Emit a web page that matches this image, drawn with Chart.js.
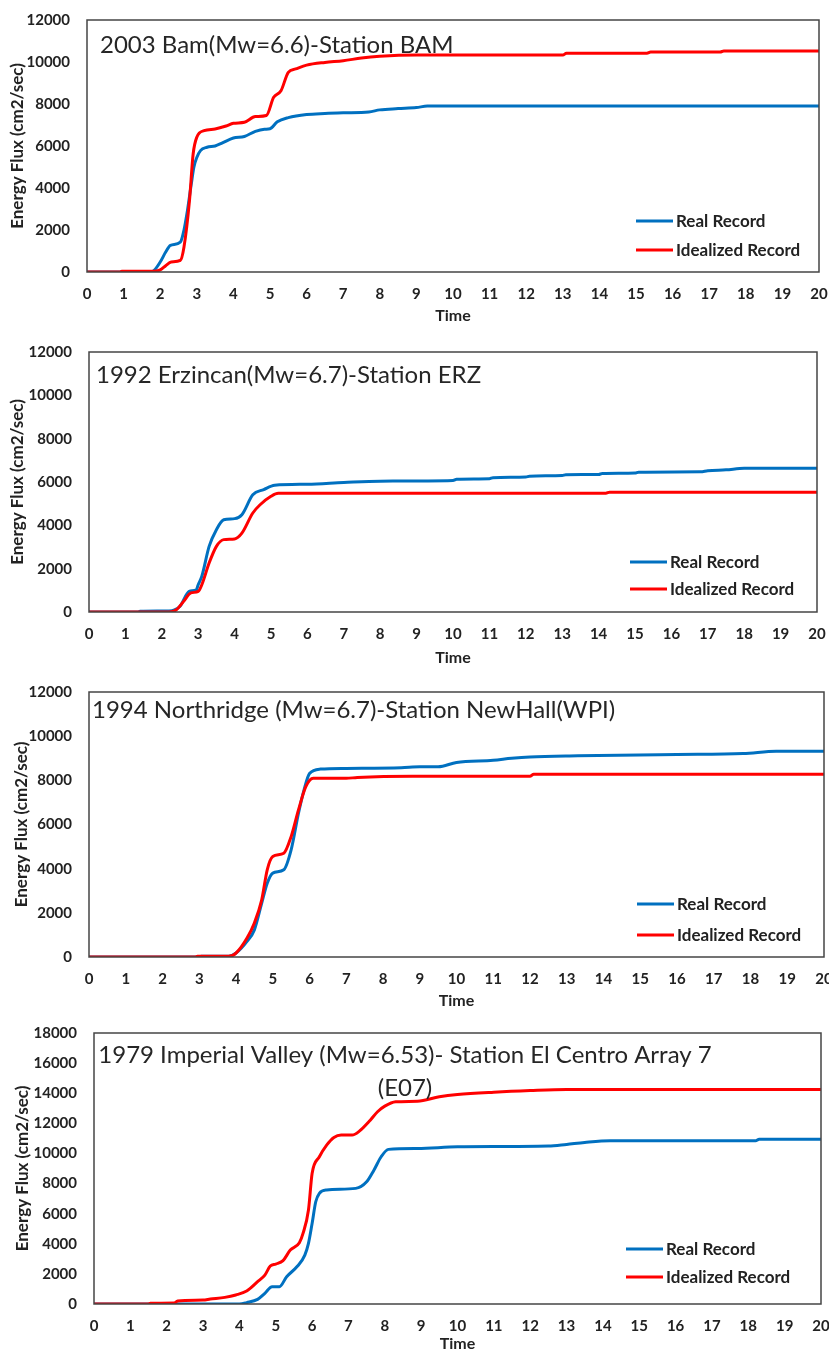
<!DOCTYPE html>
<html>
<head>
<meta charset="utf-8">
<script src="https://cdn.jsdelivr.net/npm/chart.js@4"></script>
<style>
  body { margin: 0; background: #fff; }
  canvas { display: block; }
</style>
</head>
<body>
<canvas id="c1" width="829" height="330"></canvas>
<canvas id="c2" width="829" height="340"></canvas>
<canvas id="c3" width="829" height="340"></canvas>
<canvas id="c4" width="829" height="342"></canvas>
<script>
// 2003 Bam - Station BAM
const bamRealT  = [0, 1.7, 1.8, 2.0, 2.15, 2.28, 2.55, 2.65, 2.73, 2.85, 2.92, 3.0, 3.1, 3.28, 3.5, 3.7, 4.0, 4.3, 4.6, 4.85, 5.0, 5.2, 5.5, 6.0, 6.5, 7.0, 7.7, 8.0, 8.5, 9.0, 9.3, 20];
const bamRealE  = [0, 0, 30, 475, 950, 1270, 1420, 2000, 2770, 4200, 4990, 5450, 5780, 5940, 6000, 6150, 6380, 6450, 6700, 6800, 6820, 7150, 7350, 7500, 7550, 7580, 7620, 7720, 7780, 7830, 7900, 7900];
const bamIdealT = [0, 0.9, 0.95, 1.8, 2.0, 2.15, 2.3, 2.55, 2.65, 2.8, 2.9, 3.0, 3.2, 3.5, 3.8, 4.0, 4.3, 4.6, 4.9, 5.1, 5.3, 5.5, 5.7, 6.0, 6.5, 7.0, 7.5, 8.0, 9.0, 13.0, 13.1, 15.3, 15.4, 17.3, 17.4, 20];
const bamIdealE = [0, 0, 30, 30, 100, 300, 475, 550, 1190, 3400, 5620, 6420, 6730, 6810, 6950, 7080, 7130, 7400, 7450, 8320, 8630, 9510, 9670, 9850, 9980, 10060, 10190, 10270, 10330, 10330, 10420, 10420, 10480, 10480, 10520, 10520];

// 1992 Erzincan - Station ERZ
const erzRealT  = [0, 1.35, 1.4, 2.2, 2.35, 2.5, 2.75, 2.95, 3.0, 3.1, 3.3, 3.5, 3.7, 4.0, 4.2, 4.5, 4.8, 5.1, 6.0, 7.0, 8.0, 10.0, 10.1, 11.0, 11.1, 12.0, 12.1, 13.0, 13.1, 14.0, 14.1, 15.0, 15.1, 16.8, 17.0, 17.5, 18.0, 20];
const erzRealE  = [0, 0, 30, 50, 100, 260, 950, 1030, 1260, 1650, 3030, 3800, 4260, 4310, 4490, 5410, 5650, 5850, 5900, 5980, 6040, 6070, 6130, 6150, 6200, 6230, 6270, 6300, 6340, 6350, 6390, 6410, 6450, 6470, 6520, 6560, 6630, 6630];
const erzIdealT = [0, 2.2, 2.4, 2.6, 2.8, 3.0, 3.1, 3.3, 3.5, 3.7, 4.0, 4.2, 4.5, 4.7, 5.0, 5.2, 14.2, 14.3, 20];
const erzIdealE = [0, 0, 100, 490, 880, 950, 1260, 2260, 3030, 3340, 3370, 3640, 4570, 4950, 5340, 5480, 5480, 5530, 5530];

// 1994 Northridge - Station NewHall(WPI)
const norRealT  = [0, 3.0, 3.05, 3.8, 4.0, 4.3, 4.5, 4.7, 4.85, 5.0, 5.3, 5.5, 5.7, 5.85, 6.0, 6.3, 7.0, 8.5, 9.0, 9.5, 10.0, 11.0, 11.5, 12.0, 13.3, 16.0, 17.8, 18.7, 20];
const norRealE  = [0, 0, 30, 30, 180, 710, 1230, 2440, 3340, 3800, 3950, 4850, 6510, 7560, 8310, 8510, 8540, 8570, 8610, 8610, 8810, 8910, 9000, 9060, 9110, 9170, 9210, 9320, 9320];
const norIdealT = [0, 2.9, 2.95, 3.8, 4.0, 4.3, 4.5, 4.7, 4.85, 5.0, 5.3, 5.5, 5.7, 5.9, 6.1, 7.0, 7.3, 8.8, 12.0, 12.1, 20];
const norIdealE = [0, 0, 30, 30, 180, 860, 1540, 2590, 3950, 4550, 4700, 5450, 6660, 7710, 8090, 8090, 8130, 8190, 8190, 8270, 8270];

// 1979 Imperial Valley - Station El Centro Array 7
const impRealT  = [0, 4.0, 4.2, 4.5, 4.7, 4.9, 5.1, 5.3, 5.6, 5.8, 5.9, 6.0, 6.1, 6.2, 6.4, 7.2, 7.5, 7.7, 7.9, 8.1, 8.9, 10.0, 12.5, 13.0, 13.5, 14.2, 18.2, 18.3, 20];
const impRealE  = [0, 0, 90, 310, 710, 1150, 1150, 1810, 2520, 3250, 4030, 5350, 6790, 7350, 7570, 7680, 8120, 8890, 9780, 10270, 10330, 10440, 10490, 10600, 10730, 10840, 10840, 10950, 10950];
const impIdealT = [0, 1.5, 1.55, 2.2, 2.3, 3.0, 3.2, 3.6, 3.9, 4.2, 4.5, 4.7, 4.85, 5.0, 5.2, 5.4, 5.65, 5.75, 5.9, 6.0, 6.2, 6.4, 6.6, 6.8, 7.1, 7.3, 7.6, 7.8, 8.0, 8.3, 8.9, 9.5, 10.0, 11.0, 12.0, 13.0, 20];
const impIdealE = [0, 0, 50, 60, 200, 265, 330, 440, 600, 860, 1480, 1920, 2520, 2650, 2880, 3580, 4070, 4690, 6240, 8670, 9780, 10550, 11060, 11220, 11220, 11480, 12210, 12770, 13140, 13430, 13470, 13760, 13910, 14070, 14180, 14250, 14250];

const seriesLabels = ['Real Record', 'Idealized Record'];
const yTitle = 'Energy Flux (cm2/sec)';
const xTitle = 'Time';

const blue = '#0070C0';
const red = '#FF0000';
const ink = '#222';

Chart.defaults.font.family = 'Lato';

// plot frame, title inside the plot and the legend in the lower right
const decor = {
  id: 'decor',
  afterDatasetsDraw(chart, args, o) {
    const { ctx, chartArea: a } = chart;
    ctx.save();
    ctx.strokeStyle = '#454545';
    ctx.lineWidth = 1.5;
    ctx.strokeRect(a.left, a.top, a.right - a.left, a.bottom - a.top);

    ctx.fillStyle = '#262626';
    ctx.font = '24px Lato';
    ctx.textBaseline = 'middle';
    ctx.textAlign = o.align;
    o.title.forEach((s, i) => ctx.fillText(s, o.tx, o.ty + i * 33));

    ctx.font = 'bold 17px Lato';
    ctx.textAlign = 'left';
    ctx.fillStyle = ink;
    chart.data.datasets.forEach((d, i) => {
      const y = o.ly + i * o.lg;
      ctx.strokeStyle = d.borderColor;
      ctx.lineWidth = 3;
      ctx.beginPath();
      ctx.moveTo(o.lx, y);
      ctx.lineTo(o.lx + 37, y);
      ctx.stroke();
      ctx.fillText(d.label, o.lx + 40, y + 1);
    });
    ctx.restore();
  }
};

const panels = [
  { id: 'c1', title: ['2003 Bam(Mw=6.6)-Station BAM'], yMax: 12000,
    real: [bamRealT, bamRealE], ideal: [bamIdealT, bamIdealE],
    box: { h: 330, l: 87, t: 20, r: 819, b: 272, timeY: 316, yTitleX: 18,
           tx: 100, ty: 45, align: 'left', lx: 636, ly: 221, lg: 29 } },
  { id: 'c2', title: ['1992 Erzincan(Mw=6.7)-Station ERZ'], yMax: 12000,
    real: [erzRealT, erzRealE], ideal: [erzIdealT, erzIdealE],
    box: { h: 340, l: 89, t: 22, r: 817, b: 282, timeY: 328, yTitleX: 18,
           tx: 96, ty: 45, align: 'left', lx: 630, ly: 232, lg: 27 } },
  { id: 'c3', title: ['1994 Northridge (Mw=6.7)-Station NewHall(WPI)'], yMax: 12000,
    real: [norRealT, norRealE], ideal: [norIdealT, norIdealE],
    box: { h: 340, l: 89, t: 22, r: 824, b: 287, timeY: 331, yTitleX: 22,
           tx: 92, ty: 40, align: 'left', lx: 637, ly: 234, lg: 31 } },
  { id: 'c4', title: ['1979 Imperial Valley (Mw=6.53)- Station El Centro Array 7', '(E07)'], yMax: 18000,
    real: [impRealT, impRealE], ideal: [impIdealT, impIdealE],
    box: { h: 342, l: 94, t: 23, r: 821, b: 294, timeY: 335, yTitleX: 23,
           tx: 405, ty: 45, align: 'center', lx: 626, ly: 239, lg: 28 } }
];

function points(t, e) {
  return t.map((x, i) => ({ x: x, y: e[i] }));
}

panels.forEach(p => {
  const b = p.box;
  const padLeft = b.yTitleX - 8.5;
  const xBottom = Math.min(b.timeY + 8, b.h);

  new Chart(document.getElementById(p.id), {
    type: 'line',
    data: {
      datasets: [
        { label: seriesLabels[0], data: points(p.real[0], p.real[1]),
          borderColor: blue, borderWidth: 3, order: 1 },
        { label: seriesLabels[1], data: points(p.ideal[0], p.ideal[1]),
          borderColor: red, borderWidth: 3, order: 0 }
      ]
    },
    options: {
      responsive: false,
      animation: false,
      elements: { point: { radius: 0 }, line: { cubicInterpolationMode: 'monotone' } },
      layout: { padding: { left: padLeft, top: b.t, right: 829 - b.r, bottom: b.h - xBottom } },
      scales: {
        x: {
          type: 'linear', min: 0, max: 20,
          grid: { display: false, drawTicks: false, tickLength: 0 },
          border: { display: false },
          ticks: { stepSize: 1, padding: 13, color: ink, font: { size: 15, weight: 'bold' } },
          title: { display: true, text: xTitle, color: ink, padding: 0,
                   font: { size: 16, weight: 'bold', lineHeight: 1 } },
          afterFit(s) { s.height = xBottom - b.b; s.paddingLeft = 0; s.paddingRight = 0; }
        },
        y: {
          min: 0, max: p.yMax,
          grid: { display: false, drawTicks: false, tickLength: 0 },
          border: { display: false },
          ticks: { stepSize: 2000, padding: 17, color: ink, font: { size: 15, weight: 'bold' },
                   callback: v => String(v) },
          title: { display: true, text: yTitle, color: ink, padding: 0,
                   font: { size: 17, weight: 'bold', lineHeight: 1 } },
          afterFit(s) { s.width = b.l - padLeft; s.paddingTop = 0; s.paddingBottom = 0; }
        }
      },
      plugins: {
        legend: { display: false },
        tooltip: { enabled: false },
        decor: { title: p.title, tx: b.tx, ty: b.ty, align: b.align, lx: b.lx, ly: b.ly, lg: b.lg }
      }
    },
    plugins: [decor]
  });
});
</script>
</body>
</html>
